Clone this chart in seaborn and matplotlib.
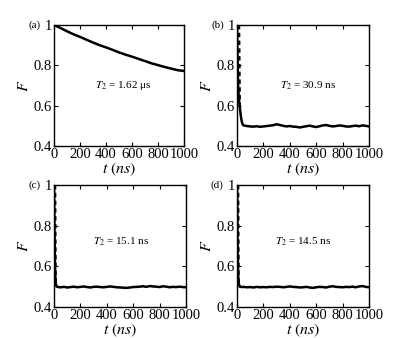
import matplotlib
matplotlib.use("Agg")
import matplotlib.pyplot as plt
import seaborn as sns
import pandas as pd

# ---- data ----
a_t = [0, 50, 100, 150, 200, 250, 300, 350, 400, 450, 500, 550, 600, 650, 700, 750, 800, 850, 900, 950, 1000]
a_F = [1.0, 0.985, 0.969, 0.954, 0.941, 0.927, 0.913, 0.900, 0.889, 0.877, 0.864, 0.853, 0.843, 0.832, 0.821, 0.810, 0.801, 0.792, 0.784, 0.776, 0.772]

flat_t = list(range(50, 1001, 25))

b_early_t = [0, 2, 4, 6, 8, 10, 15, 20, 25, 30, 35, 40, 45]
b_early_F = [1.0, 0.92, 0.84, 0.77, 0.72, 0.68, 0.63, 0.60, 0.57, 0.545, 0.525, 0.512, 0.505]
b_flat_F = [0.502, 0.499, 0.497, 0.496, 0.498, 0.495, 0.497, 0.499, 0.501, 0.503,
            0.508, 0.504, 0.500, 0.497, 0.499, 0.496, 0.495, 0.492, 0.495, 0.498,
            0.501, 0.497, 0.494, 0.498, 0.502, 0.504, 0.500, 0.497, 0.499, 0.502,
            0.500, 0.497, 0.496, 0.499, 0.501, 0.498, 0.502, 0.500, 0.497]
b_dash_t = [16, 18, 20, 22]
b_dash_F = [1.0, 0.86, 0.73, 0.60]

c_early_t = [0, 2, 4, 6, 8, 10, 15, 20, 30, 40]
c_early_F = [1.0, 0.88, 0.77, 0.67, 0.60, 0.55, 0.51, 0.50, 0.499, 0.497]
c_flat_F = [0.497, 0.499, 0.496, 0.498, 0.500, 0.497, 0.499, 0.501, 0.498, 0.496,
            0.499, 0.500, 0.498, 0.497, 0.499, 0.501, 0.499, 0.497, 0.496, 0.495,
            0.494, 0.496, 0.498, 0.499, 0.500, 0.502, 0.499, 0.503, 0.501, 0.500,
            0.498, 0.502, 0.500, 0.497, 0.499, 0.498, 0.500, 0.498, 0.497]
c_dash_t = [9, 10, 11, 12, 13]
c_dash_F = [1.0, 0.88, 0.76, 0.63, 0.51]

d_early_t = [0, 2, 4, 6, 8, 10, 15, 20, 30, 40]
d_early_F = [1.0, 0.88, 0.76, 0.66, 0.59, 0.54, 0.51, 0.50, 0.499, 0.498]
d_flat_F = [0.499, 0.497, 0.498, 0.496, 0.499, 0.497, 0.498, 0.497, 0.499, 0.498,
            0.500, 0.499, 0.497, 0.499, 0.501, 0.499, 0.498, 0.496, 0.497, 0.499,
            0.496, 0.494, 0.497, 0.499, 0.498, 0.496, 0.500, 0.502, 0.499, 0.498,
            0.497, 0.499, 0.498, 0.500, 0.497, 0.501, 0.503, 0.499, 0.497]
d_dash_t = [9, 10, 11, 12, 13]
d_dash_F = [1.0, 0.88, 0.76, 0.63, 0.51]

panel_labels = ["(a)", "(b)", "(c)", "(d)"]
t2_texts = [r"$T_2$ = 1.62 μs", r"$T_2$ = 30.9 ns", r"$T_2$ = 15.1 ns", r"$T_2$ = 14.5 ns"]
t2_pos = [(530, 0.70), (537, 0.70), (508, 0.72), (500, 0.72)]
x_ticks = [0, 200, 400, 600, 800, 1000]
y_ticks = [0.4, 0.6, 0.8, 1.0]
y_ticklabels = ["0.4", "0.6", "0.8", "1"]

# ---- style ----
sns.set_theme(style="ticks")
plt.rcParams["font.family"] = ["Liberation Serif", "DejaVu Serif"]
plt.rcParams["mathtext.fontset"] = "stix"
for k in ["text.color", "axes.labelcolor", "xtick.color", "ytick.color", "axes.edgecolor"]:
    plt.rcParams[k] = "black"

fig = plt.figure(figsize=(4.15, 3.38), dpi=100)
rects = [
    [54/415, 1 - 146/338, 130/415, 121/338],
    [237/415, 1 - 146/338, 132/415, 121/338],
    [54/415, 1 - 307/338, 132/415, 122/338],
    [237/415, 1 - 307/338, 132/415, 122/338],
]

solid_sets = [
    (a_t, a_F),
    (b_early_t + flat_t, b_early_F + b_flat_F),
    (c_early_t + flat_t, c_early_F + c_flat_F),
    (d_early_t + flat_t, d_early_F + d_flat_F),
]
dash_sets = [None, (b_dash_t, b_dash_F), (c_dash_t, c_dash_F), (d_dash_t, d_dash_F)]

for i in range(4):
    ax = fig.add_axes(rects[i])
    t, F = solid_sets[i]
    df = pd.DataFrame({"t": t, "F": F})
    sns.lineplot(data=df, x="t", y="F", ax=ax, color="black", lw=1.8, sort=False)
    if dash_sets[i] is not None:
        td, Fd = dash_sets[i]
        dfd = pd.DataFrame({"t": td, "F": Fd})
        sns.lineplot(data=dfd, x="t", y="F", ax=ax, color="black", lw=1.6,
                     linestyle=(0, (2, 1.5)), sort=False)
    ax.set_xlim(0, 1000)
    ax.set_ylim(0.4, 1.0)
    ax.set_xticks(x_ticks)
    ax.set_xticklabels([str(v) for v in x_ticks])
    ax.set_yticks(y_ticks)
    ax.set_yticklabels(y_ticklabels)
    ax.tick_params(direction="in", top=True, right=True, length=3, width=0.8,
                   labelsize=10.5, pad=1.5, colors="black")
    for s in ax.spines.values():
        s.set_linewidth(1.0)
        s.set_color("black")
    ax.set_xlabel(r"$t\ (ns)$", fontsize=11.5, labelpad=0)
    ax.set_ylabel(r"$F$", fontsize=11.5, labelpad=1)
    ax.text(-0.1, 1.0, panel_labels[i], transform=ax.transAxes, ha="right",
            va="center", fontsize=8)
    tx, ty = t2_pos[i]
    ax.text(tx, ty, t2_texts[i], ha="center", va="center", fontsize=8)

fig.savefig("out.png", dpi=100)
